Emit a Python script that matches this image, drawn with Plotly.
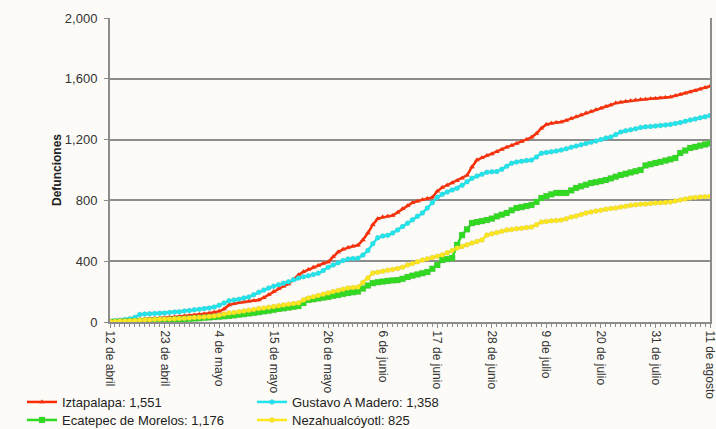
import pandas as pd
import plotly.graph_objects as go

dates = pd.date_range("2020-04-12", "2020-08-11", freq="D")

iztapalapa = [3, 5, 7, 9, 11, 14, 17, 19, 21, 23,
    25, 28, 31, 33, 36, 39, 42, 45, 49, 53,
    58, 64, 70, 85, 112, 120, 128, 132, 136, 140,
    145, 160, 180, 200, 220, 235, 250, 280, 310, 330,
    345, 360, 372, 385, 395, 430, 460, 478, 490, 498,
    505, 540, 585, 640, 680, 690, 695, 700, 720, 745,
    765, 785, 795, 805, 812, 820, 860, 885, 900, 915,
    930, 945, 965, 1020, 1066, 1080, 1095, 1105, 1120, 1135,
    1150, 1162, 1175, 1188, 1200, 1215, 1240, 1275, 1300, 1308,
    1312, 1316, 1325, 1338, 1350, 1362, 1375, 1385, 1396, 1406,
    1418, 1428, 1440, 1445, 1450, 1455, 1460, 1463, 1466, 1468,
    1471, 1474, 1477, 1480, 1488, 1497, 1505, 1513, 1522, 1532,
    1541, 1551]

gustavo = [5, 8, 12, 16, 22, 30, 50, 52, 54, 56,
    58, 60, 62, 65, 68, 72, 76, 80, 84, 88,
    92, 98, 110, 125, 140, 145, 150, 158, 165, 180,
    195, 210, 224, 235, 245, 255, 265, 278, 290, 298,
    305, 312, 320, 338, 360, 375, 390, 405, 415, 418,
    420, 440, 470, 515, 555, 565, 570, 585, 605, 628,
    650, 672, 695, 717, 750, 785, 820, 840, 855, 868,
    880, 900, 922, 945, 960, 972, 985, 988, 990, 1005,
    1025, 1045, 1052, 1058, 1062, 1066, 1085, 1110, 1115, 1120,
    1125, 1132, 1140, 1150, 1158, 1166, 1175, 1182, 1190, 1200,
    1210, 1217, 1233, 1250, 1258, 1265, 1272, 1280, 1284, 1287,
    1290, 1293, 1296, 1300, 1306, 1312, 1320, 1329, 1336, 1344,
    1351, 1358]

ecatepec = [0, 1, 2, 3, 4, 5, 6, 7, 8, 10,
    11, 12, 13, 15, 17, 19, 21, 23, 25, 28,
    30, 33, 35, 38, 40, 44, 48, 52, 56, 60,
    65, 70, 74, 80, 86, 90, 95, 100, 105, 125,
    145, 150, 155, 160, 165, 172, 178, 185, 191, 196,
    200, 220, 240, 256, 262, 266, 270, 274, 276, 284,
    296, 305, 313, 321, 329, 350, 375, 408, 414, 421,
    507, 572, 610, 651, 658, 664, 671, 680, 695, 706,
    717, 735, 750, 756, 763, 770, 790, 816, 828, 840,
    849, 849, 849, 866, 882, 893, 903, 914, 920, 927,
    934, 945, 956, 967, 975, 984, 992, 1000, 1030, 1038,
    1046, 1053, 1062, 1070, 1079, 1112, 1128, 1145, 1152, 1160,
    1168, 1176]

neza = [3, 4, 6, 7, 9, 10, 12, 14, 15, 17,
    18, 19, 20, 22, 23, 25, 27, 29, 31, 33,
    36, 40, 45, 52, 59, 63, 68, 73, 78, 83,
    88, 92, 97, 102, 107, 112, 117, 121, 125, 145,
    158, 166, 174, 183, 191, 200, 208, 216, 224, 227,
    230, 260, 290, 322, 328, 334, 340, 345, 352, 360,
    375, 385, 396, 408, 416, 425, 433, 441, 455, 470,
    487, 497, 508, 520, 530, 540, 572, 580, 588, 597,
    605, 609, 613, 617, 621, 625, 640, 658, 662, 666,
    668, 671, 680, 690, 698, 708, 717, 723, 730, 736,
    742, 746, 750, 756, 762, 768, 771, 774, 777, 780,
    783, 785, 787, 790, 796, 803, 810, 816, 819, 822,
    824, 825]

tick_dates = ["2020-04-12", "2020-04-23", "2020-05-04", "2020-05-15", "2020-05-26",
              "2020-06-06", "2020-06-17", "2020-06-28", "2020-07-09", "2020-07-20",
              "2020-07-31", "2020-08-11"]
tick_labels = ["12 de abril", "23 de abril", "4 de mayo", "15 de mayo", "26 de mayo",
               "6 de junio", "17 de junio", "28 de junio", "9 de julio", "20 de julio",
               "31 de julio", "11 de agosto"]

series = [
    ("Iztapalapa: 1,551", iztapalapa, "#FF2A00", "triangle-up", 5, "legend"),
    ("Gustavo A Madero: 1,358", gustavo, "#1EE6EC", "circle", 5, "legend"),
    ("Ecatepec de Morelos: 1,176", ecatepec, "#2EDB1E", "square", 6, "legend2"),
    ("Nezahualcóyotl: 825", neza, "#FFE81A", "circle", 5, "legend2"),
]

fig = go.Figure()
for name, vals, color, sym, size, leg in series:
    fig.add_trace(go.Scatter(
        x=dates, y=vals, name=name, mode="lines+markers",
        line=dict(color=color, width=2.5),
        marker=dict(symbol=sym, size=size, color=color,
                    line=dict(color="rgba(150,150,150,0.35)", width=0.5)),
        legend=leg,
    ))

grey = "#8C8C8C"
legend_common = dict(orientation="h", x=22 / 716, xanchor="left", xref="container",
                     yanchor="middle", yref="container",
                     entrywidth=185, entrywidthmode="pixels",
                     font=dict(size=13, color="#222222"), bgcolor="rgba(0,0,0,0)",
                     tracegroupgap=0, itemwidth=30)
fig.update_layout(
    width=716, height=429,
    margin=dict(l=110, r=6, t=18, b=107, autoexpand=False),
    paper_bgcolor="#FCFBF7", plot_bgcolor="#FCFBF7",
    font=dict(family="Liberation Sans, Arial, sans-serif", size=12, color="#333333"),
    showlegend=True,
    legend=dict(y=1 - 402 / 429, **legend_common),
    legend2=dict(y=1 - 420 / 429, **legend_common),
)

fig.update_xaxes(
    range=[dates[0], dates[-1]], automargin=False,
    tickvals=pd.to_datetime(tick_dates), ticktext=tick_labels,
    tickangle=90, tickfont=dict(size=12, color="#333333"),
    ticklabeloverflow="allow",
    showgrid=False, showline=True, linecolor=grey, linewidth=2,
    ticks="outside", ticklen=4, tickcolor=grey, tickwidth=1,
    minor=dict(dtick=86400000, ticks="outside", ticklen=3, tickcolor=grey, tickwidth=1,
               showgrid=False),
    zeroline=False,
)
fig.update_yaxes(
    range=[0, 2000], tickvals=[0, 400, 800, 1200, 1600, 2000], automargin=False,
    tickformat=",", tickfont=dict(size=13, color="#333333"),
    showgrid=True, gridcolor=grey, gridwidth=2,
    showline=True, linecolor=grey, linewidth=2, mirror=True,
    ticks="outside", ticklen=4, tickcolor=grey, tickwidth=1, ticklabelstandoff=4,
    zeroline=False,
    title=dict(text="<b>Defunciones</b>", font=dict(size=12, color="#222222"), standoff=1),
)

fig.write_html("out.html",
               config={"displayModeBar": False},
               post_script="document.body.style.margin='0';document.body.style.background='#FCFBF7';")
